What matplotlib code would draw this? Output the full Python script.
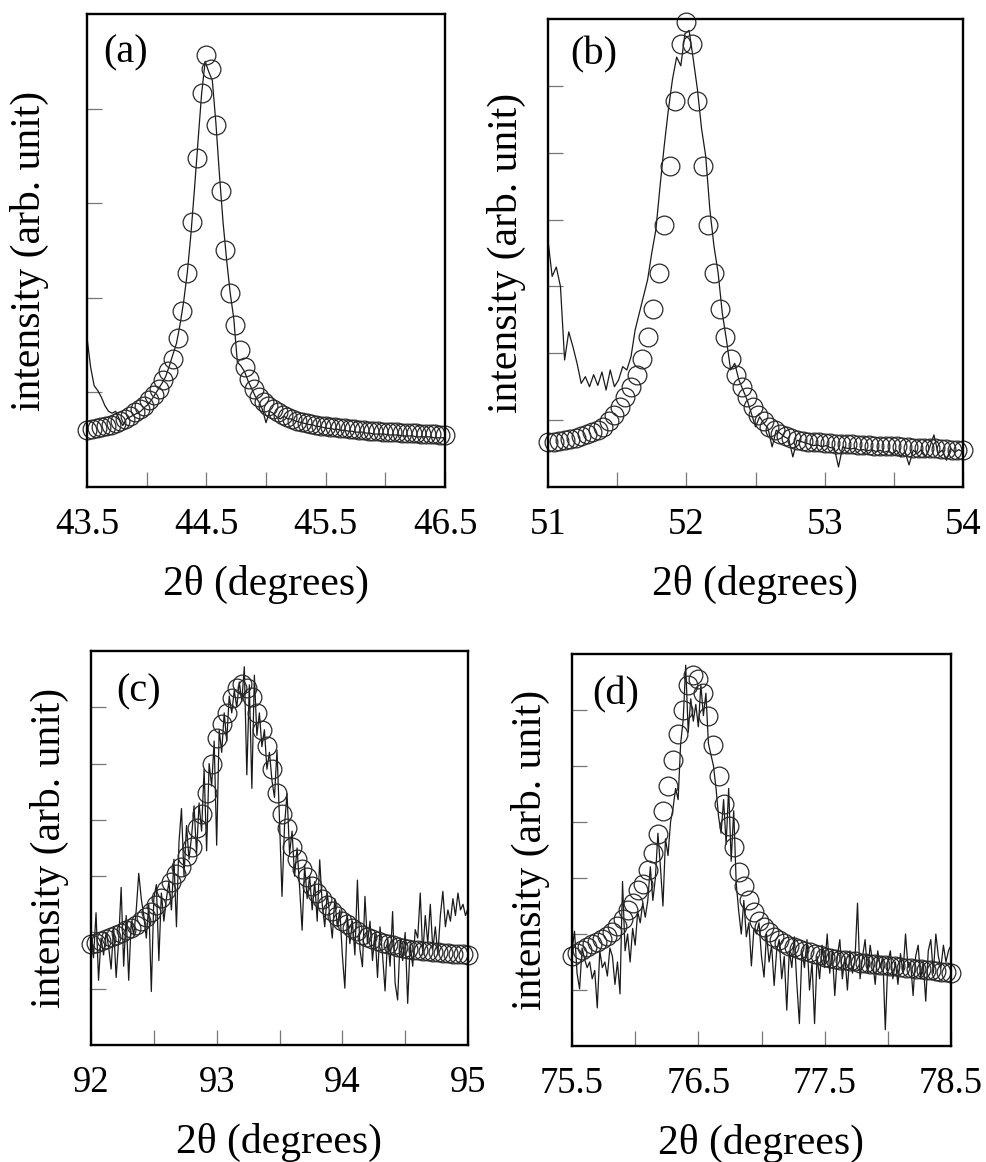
import numpy as np
import matplotlib
matplotlib.use("Agg")
import matplotlib.pyplot as plt

plt.rcParams['font.family'] = ['Liberation Serif', 'DejaVu Serif']
plt.rcParams['mathtext.fontset'] = 'stix'

# ---------------- data ----------------
panel_labels = ['(a)', '(b)', '(c)', '(d)']
x_label = '2θ (degrees)'
y_label = 'intensity (arb. unit)'

# x ranges (start, stop) for each panel
a_range = (43.5, 46.5)
b_range = (51.0, 54.0)
c_range = (92.0, 95.0)
d_range = (75.5, 78.5)

a_xticks = [43.5, 44.0, 44.5, 45.0, 45.5, 46.0, 46.5]
a_xticklabels = ['43.5', '', '44.5', '', '45.5', '', '46.5']
b_xticks = [51.0, 51.5, 52.0, 52.5, 53.0, 53.5, 54.0]
b_xticklabels = ['51', '', '52', '', '53', '', '54']
c_xticks = [92.0, 92.5, 93.0, 93.5, 94.0, 94.5, 95.0]
c_xticklabels = ['92', '', '93', '', '94', '', '95']
d_xticks = [75.5, 76.0, 76.5, 77.0, 77.5, 78.0, 78.5]
d_xticklabels = ['75.5', '', '76.5', '', '77.5', '', '78.5']

# fitted profile (open circles), 76 points on a 0.04 degree grid
a_fit = [0.60, 0.61, 0.62, 0.63, 0.65, 0.66, 0.68, 0.70, 0.72, 0.75,
         0.79, 0.82, 0.86, 0.92, 0.97, 1.04, 1.13, 1.23, 1.35, 1.57,
         1.86, 2.26, 2.80, 3.48, 4.17, 4.57, 4.42, 3.83, 3.13, 2.51,
         2.05, 1.71, 1.45, 1.27, 1.14, 1.04, 0.95, 0.90, 0.86, 0.82,
         0.79, 0.76, 0.74, 0.72, 0.70, 0.69, 0.68, 0.67, 0.66, 0.65,
         0.64, 0.63, 0.63, 0.62, 0.62, 0.61, 0.61, 0.60, 0.60, 0.59,
         0.59, 0.59, 0.58, 0.58, 0.58, 0.58, 0.57, 0.57, 0.57, 0.57,
         0.56, 0.56, 0.56, 0.56, 0.55, 0.55]
b_fit = [0.68, 0.67, 0.69, 0.70, 0.72, 0.74, 0.76, 0.79, 0.82, 0.85,
         0.90, 0.98, 1.08, 1.20, 1.35, 1.49, 1.67, 1.91, 2.24, 2.66,
         3.20, 3.92, 4.80, 5.78, 6.62, 6.96, 6.62, 5.78, 4.80, 3.92,
         3.20, 2.66, 2.24, 1.91, 1.67, 1.49, 1.35, 1.20, 1.08, 0.98,
         0.90, 0.85, 0.80, 0.76, 0.73, 0.70, 0.69, 0.68, 0.67, 0.67,
         0.66, 0.66, 0.65, 0.65, 0.64, 0.64, 0.63, 0.63, 0.63, 0.62,
         0.62, 0.61, 0.61, 0.61, 0.60, 0.60, 0.59, 0.59, 0.59, 0.58,
         0.58, 0.57, 0.57, 0.56, 0.56, 0.55]
c_fit = [1.80, 1.82, 1.84, 1.89, 1.91, 1.95, 1.99, 2.04, 2.08, 2.14,
         2.21, 2.28, 2.37, 2.49, 2.61, 2.76, 2.90, 3.04, 3.16, 3.35,
         3.52, 3.85, 4.11, 4.47, 5.00, 5.45, 5.70, 5.90, 6.16, 6.34,
         6.42, 6.34, 6.18, 5.89, 5.60, 5.32, 4.90, 4.47, 4.11, 3.85,
         3.52, 3.30, 3.12, 2.99, 2.82, 2.70, 2.60, 2.48, 2.38, 2.29,
         2.21, 2.15, 2.08, 2.02, 1.96, 1.91, 1.88, 1.84, 1.81, 1.79,
         1.77, 1.75, 1.73, 1.71, 1.69, 1.68, 1.67, 1.67, 1.66, 1.65,
         1.64, 1.63, 1.62, 1.62, 1.61, 1.60]
d_fit = [1.60, 1.66, 1.72, 1.77, 1.82, 1.86, 1.91, 1.97, 2.04, 2.14,
         2.27, 2.42, 2.56, 2.78, 2.90, 3.15, 3.45, 3.78, 4.20, 4.65,
         5.10, 5.58, 6.00, 6.45, 6.62, 6.56, 6.30, 5.90, 5.38, 4.82,
         4.33, 3.92, 3.55, 3.10, 2.85, 2.60, 2.40, 2.24, 2.12, 2.03,
         1.95, 1.89, 1.84, 1.79, 1.76, 1.73, 1.70, 1.67, 1.65, 1.62,
         1.59, 1.57, 1.56, 1.54, 1.53, 1.52, 1.51, 1.49, 1.48, 1.47,
         1.46, 1.45, 1.44, 1.43, 1.42, 1.41, 1.40, 1.39, 1.38, 1.37,
         1.36, 1.35, 1.34, 1.33, 1.32, 1.30]

# measured data (thin line); (a),(b): 0.03 degree grid, (c),(d): 0.02 degree grid
a_meas = [1.58, 1.27, 1.07, 1.02, 0.95, 0.86, 0.80, 0.78, 0.80, 0.72,
          0.65, 0.72, 0.74, 0.76, 0.78, 0.80, 0.84, 0.87, 0.92, 0.98,
          1.04, 1.10, 1.17, 1.28, 1.40, 1.52, 1.72, 1.96, 2.26, 2.66,
          3.14, 3.65, 4.15, 4.50, 4.39, 4.30, 3.85, 3.30, 2.80, 2.40,
          2.05, 1.78, 1.32, 1.28, 1.22, 1.12, 1.04, 0.96, 0.90, 0.82,
          0.68, 0.80, 0.78, 0.74, 0.72, 0.75, 0.72, 0.72, 0.70, 0.69,
          0.68, 0.67, 0.66, 0.66, 0.64, 0.64, 0.63, 0.62, 0.62, 0.61,
          0.61, 0.60, 0.60, 0.59, 0.59, 0.58, 0.58, 0.58, 0.57, 0.57,
          0.56, 0.56, 0.56, 0.56, 0.55, 0.55, 0.55, 0.55, 0.54, 0.54,
          0.54, 0.54, 0.53, 0.53, 0.53, 0.53, 0.53, 0.52, 0.52, 0.52,
          0.52]
b_meas = [3.69, 3.15, 3.29, 3.00, 1.90, 2.32, 2.10, 1.85, 1.55, 1.65,
          1.50, 1.68, 1.52, 1.72, 1.45, 1.75, 1.50, 1.60, 1.80, 1.75,
          1.95, 2.35, 2.60, 2.85, 3.10, 3.50, 3.85, 4.50, 5.10, 5.64,
          6.10, 6.43, 6.30, 6.78, 6.83, 6.40, 5.95, 5.36, 4.95, 4.15,
          3.60, 3.20, 2.60, 2.20, 1.75, 1.85, 1.60, 1.45, 1.30, 1.10,
          0.90, 1.05, 0.95, 0.88, 0.60, 0.85, 0.80, 0.75, 0.72, 0.45,
          0.70, 0.68, 0.66, 0.64, 0.62, 0.63, 0.60, 0.62, 0.59, 0.58,
          0.30, 0.60, 0.58, 0.57, 0.58, 0.55, 0.56, 0.54, 0.56, 0.53,
          0.55, 0.52, 0.54, 0.50, 0.55, 0.45, 0.53, 0.33, 0.55, 0.50,
          0.56, 0.45, 0.60, 0.78, 0.50, 0.55, 0.40, 0.58, 0.52, 0.56,
          0.52]
c_meas = [2.05, 1.55, 2.35, 1.15, 1.90, 1.60, 2.00, 1.75, 1.35, 2.10,
          1.20, 1.85, 2.80, 1.40, 2.30, 1.15, 2.20, 1.95, 2.40, 3.05,
          2.60, 2.30, 1.90, 2.50, 0.95, 2.60, 2.85, 1.50, 2.70, 2.20,
          2.60, 2.90, 2.40, 3.30, 2.10, 3.60, 4.20, 3.00, 3.90, 3.30,
          3.70, 4.25, 3.40, 4.30, 3.80, 4.90, 3.45, 5.00, 4.60, 5.40,
          3.55, 5.60, 5.20, 5.90, 5.40, 6.20, 5.90, 6.30, 6.00, 6.45,
          6.10, 6.72, 4.80, 6.40, 4.56, 6.57, 5.50, 5.90, 5.30, 5.60,
          4.90, 5.20, 4.70, 4.40, 5.24, 4.00, 2.64, 3.90, 4.47, 3.40,
          3.80, 3.00, 3.50, 2.80, 2.04, 3.20, 2.60, 3.00, 2.40, 2.90,
          2.20, 3.29, 2.50, 2.10, 2.70, 2.30, 1.90, 2.60, 2.10, 2.40,
          1.60, 1.01, 2.30, 1.80, 2.20, 1.60, 2.93, 1.70, 1.39, 2.64,
          1.80, 2.20, 1.50, 2.00, 1.20, 2.10, 1.60, 0.96, 1.90, 1.40,
          2.37, 1.10, 0.80, 1.90, 1.50, 2.00, 0.74, 1.80, 1.40, 2.05,
          1.90, 2.70, 1.60, 2.30, 1.80, 2.50, 1.70, 2.10, 1.60, 2.30,
          2.73, 2.10, 2.40, 2.20, 2.60, 2.30, 2.70, 2.40, 2.50, 2.30,
          2.43]
d_meas = [1.70, 2.05, 1.30, 1.02, 1.75, 1.55, 1.40, 1.50, 1.20, 1.35,
          0.68, 1.70, 1.40, 1.50, 1.25, 1.75, 1.60, 1.10, 1.50, 0.93,
          2.94, 1.70, 2.00, 1.50, 2.10, 1.80, 2.40, 2.20, 2.55, 2.30,
          2.60, 3.20, 2.60, 3.00, 3.80, 3.20, 2.50, 3.70, 3.40, 4.00,
          4.25, 4.60, 4.40, 5.40, 5.82, 6.80, 5.60, 6.20, 5.80, 6.10,
          5.70, 6.45, 5.90, 6.30, 5.40, 5.20, 5.00, 4.60, 4.10, 3.80,
          4.40, 3.60, 4.60, 3.30, 4.20, 2.90, 2.40, 2.00, 2.60, 1.95,
          2.20, 1.43, 2.10, 2.00, 2.20, 1.60, 1.23, 2.00, 1.50, 1.80,
          1.08, 1.70, 1.90, 1.20, 1.60, 0.64, 1.70, 1.40, 1.95, 1.10,
          0.40, 1.70, 1.40, 1.90, 1.00, 1.50, 0.40, 1.60, 1.20, 1.80,
          1.40, 2.00, 1.30, 1.70, 0.90, 1.60, 1.90, 1.20, 1.60, 1.00,
          1.70, 1.30, 1.55, 2.55, 1.20, 1.60, 1.90, 1.30, 1.80, 1.50,
          1.10, 1.70, 1.40, 1.60, 0.29, 1.50, 1.70, 1.20, 1.50, 1.10,
          1.65, 1.30, 2.00, 1.40, 1.50, 0.90, 1.60, 1.80, 1.20, 1.50,
          0.80, 1.70, 1.90, 1.30, 2.00, 1.60, 1.40, 1.80, 1.50, 1.70,
          1.80]

y_max = [5, 7, 7, 7]
y_ticks = [[1, 2, 3, 4], [1, 2, 3, 4, 5, 6], [1, 2, 3, 4, 5, 6], [1, 2, 3, 4, 5, 6]]

# ---------------- figure ----------------
W, H = 986, 1162
fig = plt.figure(figsize=(W / 100, H / 100), dpi=100)

def px_axes(l, t, r, b):
    return fig.add_axes([l / W, 1 - b / H, (r - l) / W, (b - t) / H])

axes = [px_axes(87, 14, 445, 487), px_axes(548, 19, 963, 487),
        px_axes(91, 651, 468, 1045), px_axes(572, 654, 951, 1046)]

ranges = [a_range, b_range, c_range, d_range]
fits = [a_fit, b_fit, c_fit, d_fit]
meas = [a_meas, b_meas, c_meas, d_meas]
xticks = [a_xticks, b_xticks, c_xticks, d_xticks]
xticklabels = [a_xticklabels, b_xticklabels, c_xticklabels, d_xticklabels]
label_pos = [(0.109, 0.918), (0.111, 0.923), (0.126, 0.897), (0.115, 0.895)]
ylabel_pad = [24, 12, 12, 12]

for i, ax in enumerate(axes):
    lo, hi = ranges[i]
    xf = np.linspace(lo, hi, len(fits[i]))
    xm = np.linspace(lo, hi, len(meas[i]))
    ax.plot(xm, meas[i], color='#1a1a1a', lw=0.9, zorder=2)
    ax.plot(xf, fits[i], linestyle='none', marker='o', markersize=13.5,
            markerfacecolor='none', markeredgecolor='#2a2a2a', markeredgewidth=0.9,
            clip_on=False, zorder=3)
    ax.set_xlim(lo, hi)
    ax.set_ylim(0, y_max[i])
    ax.set_xticks(xticks[i])
    ax.set_xticklabels(xticklabels[i])
    ax.set_yticks(y_ticks[i])
    ax.set_yticklabels([])
    ax.tick_params(axis='both', direction='in', length=11, width=0.9, color='#777777',
                   labelsize=26.5, top=False, right=False)
    ax.tick_params(axis='x', pad=14.5)
    for sp in ax.spines.values():
        sp.set_linewidth(1.7)
        sp.set_color('black')
        sp.set_zorder(4)
    ax.set_xlabel(x_label, fontsize=30, labelpad=17)
    ax.set_ylabel(y_label, fontsize=30, labelpad=ylabel_pad[i])
    ax.text(label_pos[i][0], label_pos[i][1], panel_labels[i], transform=ax.transAxes,
            fontsize=29, ha='center', va='center')

fig.savefig('out.png', dpi=100)
